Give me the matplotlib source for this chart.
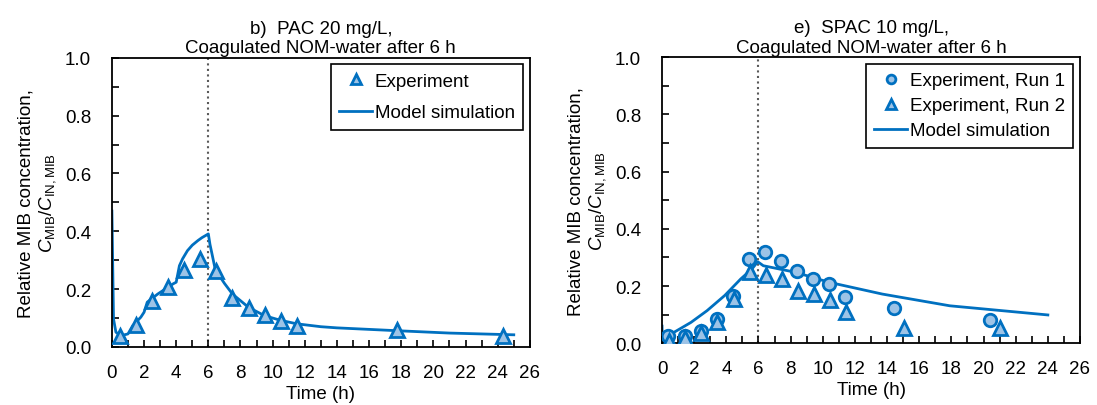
import matplotlib
matplotlib.use("Agg")
import matplotlib.pyplot as plt
from matplotlib.ticker import MultipleLocator, FormatStrFormatter

plt.rcParams['font.family'] = ['Liberation Sans', 'DejaVu Sans']
plt.rcParams['mathtext.fontset'] = 'custom'
plt.rcParams['mathtext.rm'] = 'Liberation Sans'
plt.rcParams['mathtext.it'] = 'Liberation Sans:italic'

# panel b) PAC 20 mg/L
pac_t = [0.5, 1.5, 2.5, 3.5, 4.5, 5.5, 6.5, 7.5, 8.5, 9.5, 10.5, 11.5, 17.75, 24.3]
pac_c = [0.037, 0.077, 0.159, 0.208, 0.265, 0.303, 0.263, 0.171, 0.136, 0.112, 0.090, 0.073, 0.057, 0.038]
pac_model_t = [0, 0.02, 0.1, 0.25, 0.56, 1.0, 1.3, 1.8, 2.0, 2.2, 2.85, 3.8, 4.0, 4.2, 4.4, 4.7,
               5.0, 5.35, 5.6, 6.0, 6.1, 6.2, 6.4, 6.7, 7.0, 7.5, 8.5, 9.5, 10.5, 11.5, 13, 14,
               17.8, 21, 25]
pac_model_c = [0.47, 0.40, 0.097, 0.051, 0.039, 0.045, 0.074, 0.103, 0.12, 0.155, 0.183, 0.218, 0.224,
               0.281, 0.305, 0.333, 0.352, 0.368, 0.378, 0.391, 0.355, 0.329, 0.276, 0.245, 0.22,
               0.183, 0.137, 0.108, 0.092, 0.080, 0.070, 0.066, 0.056, 0.048, 0.042]

# panel e) SPAC 10 mg/L
spac_t1 = [0.4, 1.4, 2.4, 3.4, 4.4, 5.4, 6.4, 7.4, 8.4, 9.4, 10.4, 11.4, 14.4, 20.4]
spac_c1 = [0.027, 0.027, 0.042, 0.085, 0.164, 0.293, 0.320, 0.287, 0.254, 0.224, 0.207, 0.161, 0.125, 0.080]
spac_t2 = [0.45, 1.45, 2.45, 3.45, 4.45, 5.45, 6.45, 7.45, 8.45, 9.45, 10.45, 11.45, 15.05, 21.05]
spac_c2 = [0.009, 0.017, 0.035, 0.076, 0.155, 0.248, 0.237, 0.225, 0.184, 0.172, 0.152, 0.111, 0.052, 0.052]
spac_model_t = [0, 0.02, 0.55, 1.8, 2.8, 3.9, 4.9, 5.6, 5.95, 6.3, 8.3, 10.4, 13.7, 17.9, 24]
spac_model_c = [0.06, 0.015, 0.032, 0.073, 0.114, 0.167, 0.225, 0.26, 0.285, 0.271, 0.248, 0.213, 0.172, 0.131, 0.099]

line_col = '#0070C0'
face_col = '#9DC3E6'
fs = 13.5

fig = plt.figure(figsize=(10.97, 4.06), dpi=100)
ax1 = fig.add_axes([0.102, 0.143, 0.381, 0.712])
ax2 = fig.add_axes([0.6035, 0.152, 0.381, 0.705])

ax1.axvline(6, color='#595959', ls=':', lw=1.5, zorder=1)
ax1.plot(pac_t, pac_c, ls='none', marker='^', ms=10, mfc=face_col, mec=line_col, mew=2,
         label='Experiment', zorder=3)
ax1.plot(pac_model_t, pac_model_c, color=line_col, lw=2, label='Model simulation', zorder=2)
ax1.set_title('b)  PAC 20 mg/L,\nCoagulated NOM-water after 6 h', fontsize=fs, pad=4)

ax2.axvline(6, color='#595959', ls=':', lw=1.5, zorder=1)
ax2.plot(spac_t1, spac_c1, ls='none', marker='o', ms=9, mfc=face_col, mec=line_col, mew=2,
         label='Experiment, Run 1', zorder=3)
ax2.plot(spac_t2, spac_c2, ls='none', marker='^', ms=10, mfc=face_col, mec=line_col, mew=2,
         label='Experiment, Run 2', zorder=3)
ax2.plot(spac_model_t, spac_model_c, color=line_col, lw=2, label='Model simulation', zorder=2)
ax2.set_title('e)  SPAC 10 mg/L,\nCoagulated NOM-water after 6 h', fontsize=fs, pad=4)

for ax, spacing in ((ax1, 0.75), (ax2, 0.42)):
    ax.set_xlim(0, 26)
    ax.set_ylim(0, 1.0)
    ax.xaxis.set_major_locator(MultipleLocator(2))
    ax.xaxis.set_minor_locator(MultipleLocator(1))
    ax.yaxis.set_major_locator(MultipleLocator(0.2))
    ax.yaxis.set_minor_locator(MultipleLocator(0.1))
    ax.yaxis.set_major_formatter(FormatStrFormatter('%.1f'))
    ax.tick_params(which='both', direction='in', labelsize=fs, width=1.2, color='black')
    ax.tick_params(which='major', length=5)
    ax.tick_params(which='minor', length=5)
    ax.tick_params(axis='x', which='major', pad=12)
    ax.tick_params(axis='y', which='major', pad=15)
    for s in ax.spines.values():
        s.set_linewidth(1.3)
    ax.set_xlabel('Time (h)', fontsize=fs, labelpad=3)
    ax.set_ylabel('Relative MIB concentration,\n$\\mathit{C}_{\\mathrm{MIB}}/\\mathit{C}_{\\mathrm{IN,MIB}}$',
                  fontsize=fs, labelpad=5)
    leg = ax.legend(loc='upper right', fontsize=fs, fancybox=False, edgecolor='black',
                    framealpha=1, handlelength=1.75, handletextpad=0.15, borderaxespad=0.35,
                    borderpad=0.45, labelspacing=spacing, markerscale=0.7)
    leg.get_frame().set_linewidth(1.2)

fig.savefig('out.png', dpi=100)
